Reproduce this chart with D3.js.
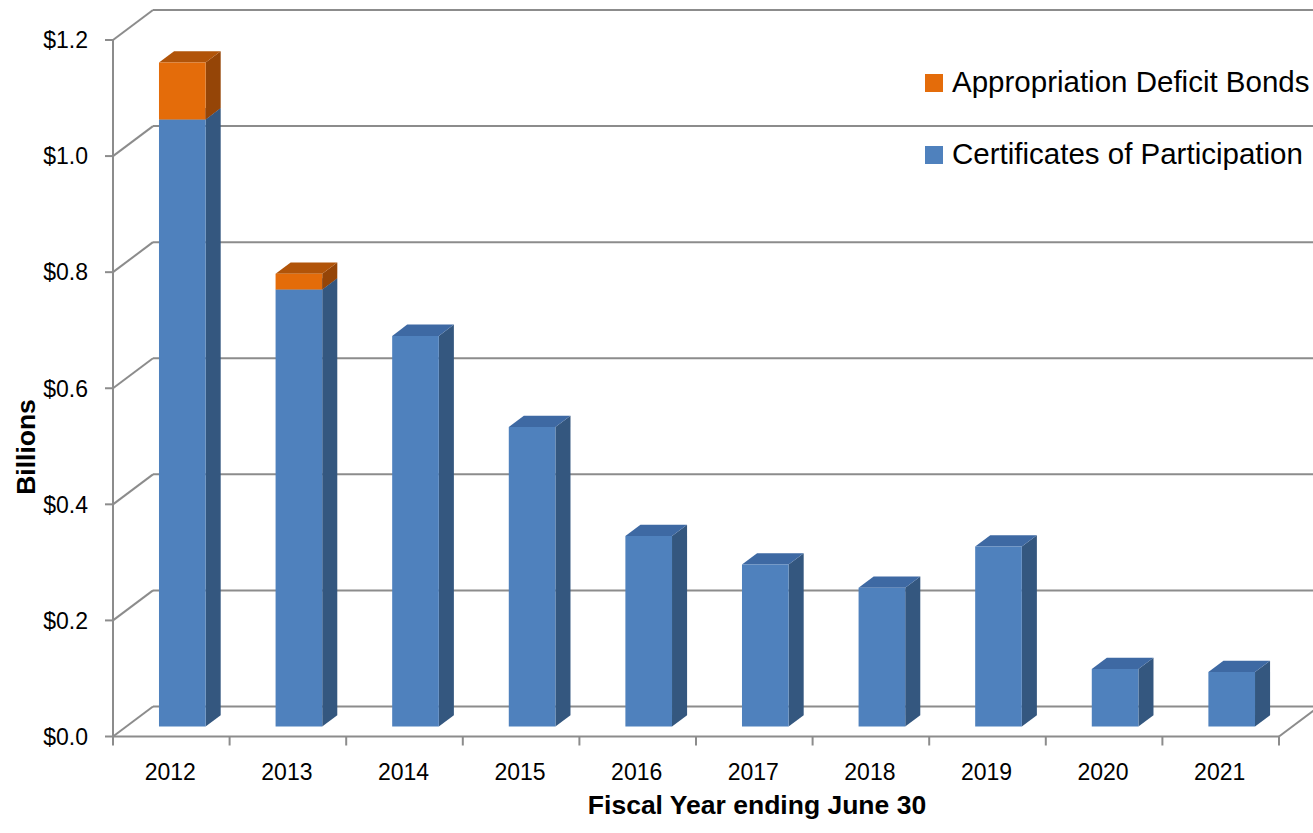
<!DOCTYPE html>
<html><head><meta charset="utf-8">
<script src="https://cdn.jsdelivr.net/npm/d3@7"></script>
<style>body{margin:0;background:#fff}svg{display:block}</style>
</head><body>
<script>
const categories = ["2012","2013","2014","2015","2016","2017","2018","2019","2020","2021"];
const cop = [1.046, 0.753, 0.673, 0.516, 0.328, 0.279, 0.239, 0.310, 0.099, 0.094];
const adb = [0.098, 0.027, 0, 0, 0, 0, 0, 0, 0, 0];
const yTicks = [0, 0.2, 0.4, 0.6, 0.8, 1.0, 1.2];
const yTickLabels = ["$0.0","$0.2","$0.4","$0.6","$0.8","$1.0","$1.2"];
const seriesNames = ["Appropriation Deficit Bonds","Certificates of Participation"];

const W = 1313, H = 833;
const svg = d3.select("body").append("svg").attr("width", W).attr("height", H);
const font = "'Liberation Sans', Arial, sans-serif";

const x0 = 113, x1 = 1279;
const x = d3.scaleBand().domain(categories).range([x0, x1]).padding(0);
const y = d3.scaleLinear().domain([0, 1.2]).range([736.5, 40]);
const DX = 40, DY = -30;               // full depth offset
const proj = (xf, v, z) => [xf + DX * z, y(v) + DY * z];
const zFront = 1/3, zBack = 0.71;
const barOff = 0.28, barW = 0.4;

const grid = "#8c8c8c";
const g = svg.append("g");

// back wall & left wall gridlines
yTicks.forEach(v => {
  const [bx, by] = proj(x0, v, 1);
  g.append("line").attr("x1", bx).attr("y1", by).attr("x2", W + 5).attr("y2", by)
    .attr("stroke", grid).attr("stroke-width", 2);
  g.append("line").attr("x1", x0).attr("y1", y(v)).attr("x2", bx).attr("y2", by)
    .attr("stroke", grid).attr("stroke-width", 2);
});
// floor front edge and right diagonal
{
  const [rx, ry] = proj(x1, 0, 1);
  g.append("line").attr("x1", x0).attr("y1", y(0)).attr("x2", x1).attr("y2", y(0))
    .attr("stroke", grid).attr("stroke-width", 2);
  g.append("line").attr("x1", x1).attr("y1", y(0)).attr("x2", rx).attr("y2", ry)
    .attr("stroke", grid).attr("stroke-width", 2);
}
// y axis line + ticks
g.append("line").attr("x1", x0).attr("y1", y(1.2)).attr("x2", x0).attr("y2", y(0))
  .attr("stroke", grid).attr("stroke-width", 2);
yTicks.forEach((v, i) => {
  g.append("line").attr("x1", x0 - 8).attr("y1", y(v)).attr("x2", x0).attr("y2", y(v))
    .attr("stroke", grid).attr("stroke-width", 2);
  g.append("text").attr("x", 88).attr("y", y(v)).attr("dy", "0.36em")
    .attr("text-anchor", "end").attr("font-family", font).attr("font-size", 23)
    .attr("fill", "#000").text(yTickLabels[i]);
});
// x ticks
const bounds = categories.map(c => x(c)).concat([x1]);
bounds.forEach(b => {
  g.append("line").attr("x1", b).attr("y1", y(0)).attr("x2", b).attr("y2", y(0) + 9)
    .attr("stroke", grid).attr("stroke-width", 2);
});
categories.forEach(c => {
  g.append("text").attr("x", x(c) + x.bandwidth() / 2 - 1).attr("y", 780)
    .attr("text-anchor", "middle").attr("font-family", font).attr("font-size", 23)
    .attr("fill", "#000").text(c);
});

// bars
const colors = {
  cop: {front: "#4f81bd", side: "#34577f", top: "#3e69a3"},
  adb: {front: "#e46c0a", side: "#954507", top: "#b15409"}
};
function poly(pts, fill) {
  svg.append("polygon").attr("points", pts.map(p => p.join(",")).join(" ")).attr("fill", fill);
}
function box(xl, v0, v1, c) {
  const bw = x.bandwidth();
  const fl = x(xl) + barOff * bw, fr = fl + barW * bw;
  const a = proj(fl, v0, zFront), b = proj(fr, v0, zFront), cc = proj(fr, v1, zFront), d = proj(fl, v1, zFront);
  const bb = proj(fr, v0, zBack), bc = proj(fr, v1, zBack), bd = proj(fl, v1, zBack);
  poly([b, cc, bc, bb], c.side);
  poly([d, cc, bc, bd], c.top);
  poly([a, b, cc, d], c.front);
}
categories.forEach((cat, i) => {
  box(cat, 0, cop[i], colors.cop);
  if (adb[i] > 0) box(cat, cop[i], cop[i] + adb[i], colors.adb);
});

// legend
const leg = [{name: seriesNames[0], color: colors.adb.front, y: 92},
             {name: seriesNames[1], color: colors.cop.front, y: 164}];
leg.forEach(l => {
  svg.append("rect").attr("x", 925).attr("y", l.y - 18).attr("width", 18).attr("height", 18).attr("fill", l.color);
  svg.append("text").attr("x", 952).attr("y", l.y).attr("font-family", font).attr("font-size", 29.5)
    .attr("fill", "#000").text(l.name);
});

// axis titles
svg.append("text").attr("x", 757).attr("y", 814).attr("text-anchor", "middle")
  .attr("font-family", font).attr("font-size", 26.5).attr("font-weight", "bold")
  .attr("fill", "#000").text("Fiscal Year ending June 30");
svg.append("text").attr("transform", "translate(35,447) rotate(-90)").attr("text-anchor", "middle")
  .attr("font-family", font).attr("font-size", 26.5).attr("font-weight", "bold")
  .attr("fill", "#000").text("Billions");
</script>
</body></html>
